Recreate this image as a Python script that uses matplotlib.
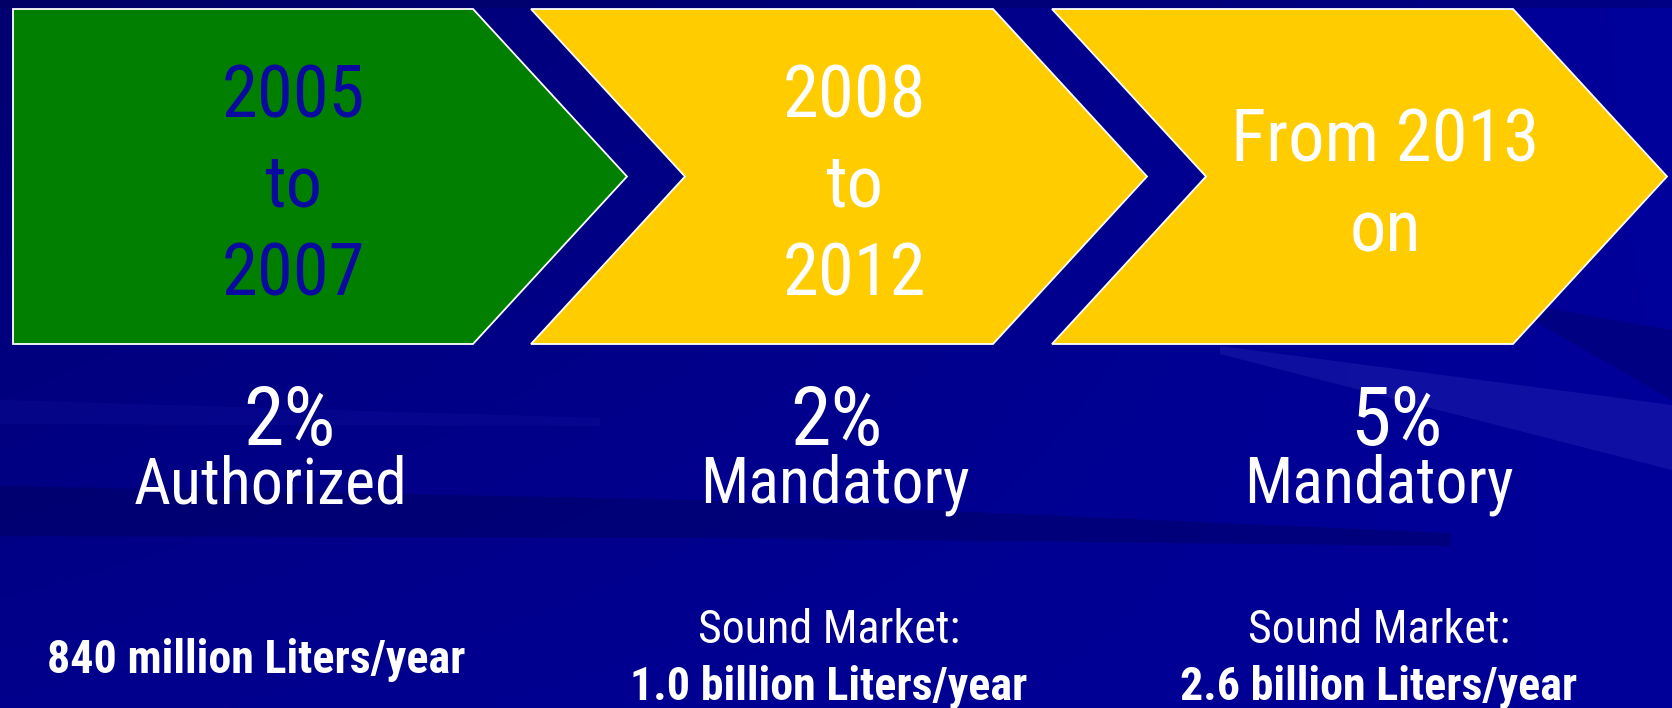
import numpy as np
import matplotlib.pyplot as plt
from matplotlib.patches import Polygon

W, H = 1672, 708

# chevron stages
stage_left = [13, 531, 1052]
stage_flat_right = [473, 993, 1513]
stage_notched = [False, True, True]
arrow_depth = 154
box_top, box_bottom = 9, 344
stage_colors = ['#007f00', '#ffcc00', '#ffcc00']
stage_text_colors = ['#0a0aa0', 'white', 'white']
stage_labels = ['2005\nto\n2007', '2008\nto\n2012', 'From 2013\non']
stage_label_x = [293, 854, 1385]

# blend level under each stage
blend_pct = ['2%', '2%', '5%']
pct_x = [289, 836, 1396]
blend_status = ['Authorized', 'Mandatory', 'Mandatory']
status_x = [271, 835, 1379]

# market size
market_head = ['', 'Sound Market:', 'Sound Market:']
market_volume = ['840 million Liters/year', '1.0 billion Liters/year', '2.6 billion Liters/year']
market_x = [256, 829, 1379]

FONT = ['Roboto Condensed', 'DejaVu Sans']


def px(p):
    # pixel height -> points at 100 dpi
    return p * 0.72


fig = plt.figure(figsize=(W / 100, H / 100), dpi=100)
ax = fig.add_axes([0, 0, 1, 1])
ax.set_xlim(0, W)
ax.set_ylim(H, 0)
ax.axis('off')

# blue slide background
gx, gy = np.meshgrid(np.linspace(0, 1, 168), np.linspace(0, 1, 71))
blue = 0.44 + 0.17 * gx + 0.11 * gy - 0.12 * gx * gy
bg = np.dstack([np.zeros_like(blue), np.zeros_like(blue), blue])
ax.imshow(bg, extent=(0, W, H, 0), interpolation='bilinear', aspect='auto', zorder=0)

# soft streaks across the background
ax.add_patch(Polygon([(0, 486), (700, 500), (1450, 533), (1450, 546), (700, 538), (0, 536)],
                     closed=True, facecolor='#000050', alpha=0.35, lw=0, zorder=1))
ax.add_patch(Polygon([(0, 400), (600, 418), (600, 426), (0, 424)],
                     closed=True, facecolor='#3030c0', alpha=0.12, lw=0, zorder=1))
ax.add_patch(Polygon([(1220, 346), (1672, 405), (1672, 470), (1220, 354)],
                     closed=True, facecolor='#5050d0', alpha=0.2, lw=0, zorder=1))
ax.add_patch(Polygon([(1500, 300), (1672, 330), (1672, 400), (1550, 330)],
                     closed=True, facecolor='#000050', alpha=0.3, lw=0, zorder=1))
ax.add_patch(Polygon([(0, 0), (W, 0), (W, 8), (0, 8)],
                     closed=True, facecolor='#000050', alpha=0.3, lw=0, zorder=1))

mid = (box_top + box_bottom) / 2
pitch = 89.5
for i in range(len(stage_labels)):
    L, R = stage_left[i], stage_flat_right[i]
    verts = [(L, box_top), (R, box_top), (R + arrow_depth, mid), (R, box_bottom), (L, box_bottom)]
    if stage_notched[i]:
        verts.append((L + arrow_depth, mid))
    ax.add_patch(Polygon(verts, closed=True, facecolor=stage_colors[i],
                         edgecolor='white', lw=1.3, zorder=3))
    lines = stage_labels[i].split('\n')
    n = len(lines)
    for k, line in enumerate(lines):
        y = mid + 30 + (k - (n - 1) / 2) * pitch
        ax.text(stage_label_x[i], y, line, ha='center', va='baseline',
                fontsize=px(72.6), color=stage_text_colors[i], family=FONT, zorder=4)

for i in range(len(blend_pct)):
    ax.text(pct_x[i], 445, blend_pct[i], ha='center', va='baseline',
            fontsize=px(82), color='white', family=FONT, zorder=4)
    ax.text(status_x[i], 503, blend_status[i], ha='center', va='baseline',
            fontsize=px(64), color='white', family=FONT, zorder=4)
    if market_head[i]:
        ax.text(market_x[i], 643, market_head[i], ha='center', va='baseline',
                fontsize=px(46), color='white', family=FONT, zorder=4)
        vy = 700
    else:
        vy = 673
    ax.text(market_x[i], vy, market_volume[i], ha='center', va='baseline',
            fontsize=px(46), color='white', family=FONT, fontweight='semibold', zorder=4)

fig.savefig('out.png', dpi=100)
